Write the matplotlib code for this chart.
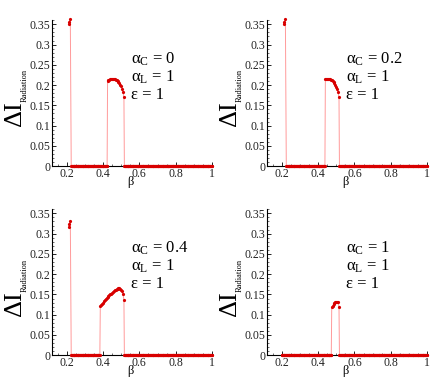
import numpy as np
import matplotlib
matplotlib.use("Agg")
import matplotlib.pyplot as plt
from matplotlib.ticker import AutoMinorLocator, FixedLocator

plt.rcParams["font.family"] = ["Liberation Serif", "DejaVu Serif"]
plt.rcParams["mathtext.fontset"] = "custom"
plt.rcParams["mathtext.rm"] = "Liberation Serif"
plt.rcParams["mathtext.it"] = "Liberation Serif:italic"

# ---- data ----------------------------------------------------------------
alpha_c = ["0", "0.2", "0.4", "1"]

# first spike near beta = 0.2 (absent for alpha_C = 1)
spike_beta = [[0.21, 0.215, 0.22], [0.21, 0.215, 0.22],
              [0.21, 0.215, 0.22], []]
spike_val = [[0.350, 0.355, 0.362], [0.350, 0.355, 0.362],
             [0.317, 0.324, 0.332], []]

# second branch
seg_beta = [
    [0.425, 0.43, 0.435, 0.44, 0.445, 0.45, 0.455, 0.46, 0.465, 0.47,
     0.475, 0.48, 0.485, 0.49, 0.495, 0.5, 0.505, 0.51, 0.515],
    [0.44, 0.445, 0.45, 0.455, 0.46, 0.465, 0.47, 0.475, 0.48, 0.485,
     0.49, 0.495, 0.5, 0.505, 0.51, 0.515],
    [0.385, 0.39, 0.395, 0.40, 0.405, 0.41, 0.415, 0.42, 0.425, 0.43,
     0.435, 0.44, 0.445, 0.45, 0.455, 0.46, 0.465, 0.47, 0.475, 0.48,
     0.485, 0.49, 0.495, 0.50, 0.505, 0.51, 0.515],
    [0.475, 0.48, 0.485, 0.49, 0.495, 0.50, 0.505, 0.51, 0.515],
]
seg_val = [
    [0.210, 0.212, 0.213, 0.214, 0.215, 0.215, 0.215, 0.215, 0.214, 0.213,
     0.212, 0.210, 0.208, 0.205, 0.201, 0.197, 0.191, 0.183, 0.170],
    [0.214, 0.215, 0.215, 0.215, 0.215, 0.214, 0.213, 0.212, 0.210, 0.208,
     0.205, 0.201, 0.196, 0.190, 0.182, 0.170],
    [0.121, 0.124, 0.127, 0.130, 0.133, 0.136, 0.139, 0.141, 0.144, 0.146,
     0.148, 0.150, 0.152, 0.154, 0.156, 0.158, 0.160, 0.162, 0.163, 0.164,
     0.165, 0.165, 0.164, 0.162, 0.158, 0.150, 0.137],
    [0.118, 0.122, 0.126, 0.129, 0.131, 0.132, 0.132, 0.131, 0.120],
]
# where the zero branch starts
zero_start = [0.225, 0.225, 0.225, 0.2]

yticks = [0, 0.05, 0.1, 0.15, 0.2, 0.25, 0.3, 0.35]
ytick_labels = ["0", "0.05", "0.1", "0.15", "0.2", "0.25", "0.3", "0.35"]
xticks = [0.2, 0.4, 0.6, 0.8, 1.0]
xtick_labels = ["0.2", "0.4", "0.6", "0.8", "1"]

# ---- figure --------------------------------------------------------------
fig = plt.figure(figsize=(4.31, 3.82), dpi=100)
pos = [(0.121, 0.565), (0.620, 0.565), (0.121, 0.070), (0.620, 0.070)]
W, H = 0.371, 0.382

for k in range(4):
    ax = fig.add_axes([pos[k][0], pos[k][1], W, H])
    step = 0.0025
    z1 = np.arange(zero_start[k], seg_beta[k][0] - step / 2, step)
    z2 = np.arange(seg_beta[k][-1] + step, 1.0 + step / 2, step)
    b = np.concatenate([spike_beta[k], z1, seg_beta[k], z2])
    v = np.concatenate([spike_val[k], np.zeros_like(z1), seg_val[k],
                        np.zeros_like(z2)])
    ax.plot(b, v, color="#ff9a9a", lw=0.7, zorder=2, clip_on=False)
    ax.plot(b, v, ls="none", marker="o", ms=2.3, mec="none",
            mfc="#d80000", zorder=3, clip_on=False)

    ax.set_xlim(0.12, 1.0)
    ax.set_ylim(0, 0.36)
    for s in ["top", "right"]:
        ax.spines[s].set_visible(False)
    ax.yaxis.set_major_locator(FixedLocator(yticks))
    ax.set_yticklabels(ytick_labels)
    ax.xaxis.set_major_locator(FixedLocator(xticks))
    ax.set_xticklabels(xtick_labels)
    ax.xaxis.set_minor_locator(AutoMinorLocator(4))
    ax.yaxis.set_minor_locator(AutoMinorLocator(5))
    ax.tick_params(which="major", direction="in", length=3, width=0.6,
                   labelsize=8.5, pad=1.5, labelcolor="#222222")
    ax.tick_params(which="minor", direction="in", length=1.5, width=0.4)

    ax.text(-0.225, 0.35, r"$\Delta\mathrm{I}$", transform=ax.transAxes,
            rotation=90, fontsize=19, ha="center", va="center")
    ax.text(-0.172, 0.55, "Radiation", transform=ax.transAxes,
            rotation=90, fontsize=6, ha="center", va="center")
    ax.text(0.49, -0.11, "β", transform=ax.transAxes, fontsize=9,
            ha="center", va="center")

    ax.text(0.49, 0.735, r"$\mathrm{\alpha}_{\mathrm{C}}$ = %s" % alpha_c[k],
            transform=ax.transAxes, fontsize=12, ha="left", va="center")
    ax.text(0.49, 0.612, r"$\mathrm{\alpha}_{\mathrm{L}}$ = 1",
            transform=ax.transAxes, fontsize=12, ha="left", va="center")
    ax.text(0.49, 0.49, "ε = 1",
            transform=ax.transAxes, fontsize=12, ha="left", va="center")

fig.savefig("out.png", dpi=100)
